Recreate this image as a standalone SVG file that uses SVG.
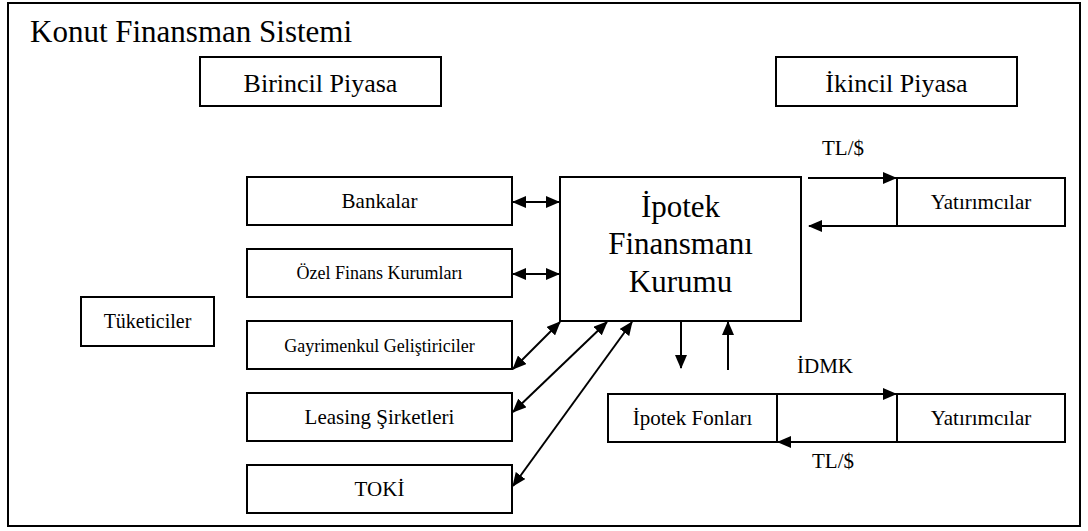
<svg xmlns="http://www.w3.org/2000/svg" width="1088" height="531" viewBox="0 0 1088 531" font-family="'Liberation Serif', 'DejaVu Serif', serif">
<style>
text{font-family:'Liberation Serif','DejaVu Serif',serif;fill:#000;text-anchor:middle}
.box{fill:#fff;stroke:#000;stroke-width:2}
.c{stroke:#000;stroke-width:2;fill:none}
</style>
<defs>
<marker id="ah" markerUnits="userSpaceOnUse" markerWidth="14" markerHeight="12" refX="13" refY="6" orient="auto-start-reverse" viewBox="0 0 14 12">
<path d="M0,0 L14,6 L0,12 z" fill="#000"/>
</marker>
</defs>
<rect x="0" y="0" width="1088" height="531" fill="#fff"/>
<rect id="frame" x="8" y="3" width="1072" height="523" fill="none" stroke="#000" stroke-width="2"/>
<text x="30" y="42" font-size="31" style="text-anchor:start">Konut Finansman Sistemi</text>
<g id="birincil"><rect class="box" x="200" y="57" width="241" height="49"/><text x="320.5" y="92" font-size="26">Birincil Piyasa</text></g>
<g id="ikincil"><rect class="box" x="776" y="57" width="241" height="49"/><text x="896.5" y="92" font-size="26">İkincil Piyasa</text></g>
<g id="tuketiciler"><rect class="box" x="81" y="297" width="133" height="49"/><text x="147.5" y="328" font-size="20">Tüketiciler</text></g>
<g id="bankalar"><rect class="box" x="247" y="177" width="265" height="48"/><text x="379.5" y="208" font-size="21">Bankalar</text></g>
<g id="ozel"><rect class="box" x="247" y="249" width="265" height="48"/><text x="379.5" y="279" font-size="18">Özel Finans Kurumları</text></g>
<g id="gayrimenkul"><rect class="box" x="247" y="321" width="265" height="48"/><text x="379.5" y="352" font-size="18">Gayrimenkul Geliştiriciler</text></g>
<g id="leasing"><rect class="box" x="247" y="393" width="265" height="48"/><text x="379.5" y="424" font-size="21">Leasing Şirketleri</text></g>
<g id="toki"><rect class="box" x="247" y="465" width="265" height="48"/><text x="379.5" y="496" font-size="21">TOKİ</text></g>
<g id="ipotekKurumu"><rect class="box" x="560" y="177" width="241" height="144"/><text x="680.5" y="217" font-size="31">İpotek</text><text x="680.5" y="254" font-size="31">Finansmanı</text><text x="680.5" y="292" font-size="31">Kurumu</text></g>
<g id="yatirimcilar1"><rect class="box" x="897" y="178" width="168" height="48"/><text x="981" y="209" font-size="21">Yatırımcılar</text></g>
<g id="ipotekFonlari"><rect class="box" x="608" y="394" width="169" height="48"/><text x="692.5" y="425" font-size="21">İpotek Fonları</text></g>
<g id="yatirimcilar2"><rect class="box" x="897" y="394" width="168" height="48"/><text x="981" y="425" font-size="21">Yatırımcılar</text></g>
<g id="connectors">
<line class="c" x1="513" y1="202" x2="559" y2="202" marker-start="url(#ah)" marker-end="url(#ah)"/>
<line class="c" x1="513" y1="274" x2="559" y2="274" marker-start="url(#ah)" marker-end="url(#ah)"/>
<line class="c" x1="513" y1="369" x2="560" y2="322" marker-start="url(#ah)" marker-end="url(#ah)"/>
<line class="c" x1="513" y1="412" x2="607" y2="322" marker-start="url(#ah)" marker-end="url(#ah)"/>
<line class="c" x1="513" y1="486" x2="632" y2="322" marker-start="url(#ah)" marker-end="url(#ah)"/>
<line class="c" x1="808" y1="178" x2="896" y2="178" marker-end="url(#ah)"/>
<line class="c" x1="897" y1="226" x2="809" y2="226" marker-end="url(#ah)"/>
<line class="c" x1="681" y1="322" x2="681" y2="368" marker-end="url(#ah)"/>
<line class="c" x1="728" y1="370" x2="728" y2="322" marker-end="url(#ah)"/>
<line class="c" x1="777" y1="394" x2="896" y2="394" marker-end="url(#ah)"/>
<line class="c" x1="897" y1="442" x2="778" y2="442" marker-end="url(#ah)"/>
<text x="843" y="155" font-size="21">TL/$</text>
<text x="825" y="373" font-size="21">İDMK</text>
<text x="833" y="468" font-size="21">TL/$</text>
</g>
</svg>
